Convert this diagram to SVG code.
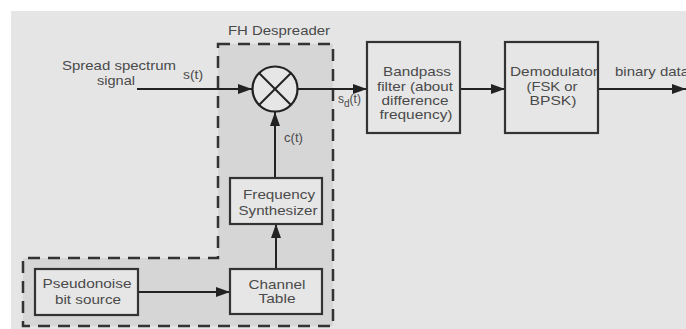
<svg xmlns="http://www.w3.org/2000/svg" width="686" height="329" viewBox="0 0 686 329">
<defs>
<marker id="ah" viewBox="0 0 14 10" refX="14" refY="5" markerWidth="14" markerHeight="10" markerUnits="userSpaceOnUse" orient="auto">
<path d="M0,0 L14,5 L0,10 Z" fill="#222"/>
</marker>
</defs>
<style>
text{font-family:"Liberation Sans",Arial,sans-serif;font-size:13px;fill:#4a4a4a}
.c{text-anchor:middle}
.box{fill:#e6e6e6;stroke:#333;stroke-width:2.2}
.ln{stroke:#222;stroke-width:2;fill:none}
</style>
<rect x="0" y="0" width="686" height="329" fill="#ffffff"/>
<rect x="11" y="11" width="675" height="318" fill="#e5e5e5"/>
<g id="despreader-region">
<path d="M218,44 L333,44 L333,326 L23,326 L23,258 L218,258 Z" fill="#d6d6d6" stroke="#333" stroke-width="2.5" stroke-dasharray="12 8"/>
<text x="279" y="35" class="c" textLength="102" lengthAdjust="spacingAndGlyphs">FH Despreader</text>
</g>
<g id="labels">
<text x="176" y="70" text-anchor="end" textLength="114" lengthAdjust="spacingAndGlyphs">Spread spectrum</text>
<text x="135" y="85" text-anchor="end" textLength="38" lengthAdjust="spacingAndGlyphs">signal</text>
<text x="183" y="79" style="font-size:12px" textLength="20" lengthAdjust="spacingAndGlyphs">s(t)</text>
<text x="284" y="142" style="font-size:12px" textLength="19" lengthAdjust="spacingAndGlyphs">c(t)</text>
<text x="338" y="103" style="font-size:12px">s<tspan dy="4" style="font-size:10px">d</tspan><tspan dy="-4">(t)</tspan></text>
<text x="615" y="76" textLength="74" lengthAdjust="spacingAndGlyphs">binary data</text>
</g>
<g id="connectors">
<line class="ln" x1="137" y1="89" x2="252" y2="89" marker-end="url(#ah)"/>
<line class="ln" x1="297" y1="89" x2="367" y2="89" marker-end="url(#ah)"/>
<line class="ln" x1="460" y1="89" x2="505" y2="89" marker-end="url(#ah)"/>
<line class="ln" x1="598" y1="89" x2="686" y2="89" marker-end="url(#ah)"/>
<line class="ln" x1="275" y1="178" x2="275" y2="112" marker-end="url(#ah)"/>
<line class="ln" x1="276" y1="269" x2="276" y2="224" marker-end="url(#ah)"/>
<line class="ln" x1="138" y1="292" x2="230" y2="292" marker-end="url(#ah)"/>
</g>
<g id="mixer">
<circle cx="275" cy="89" r="22.5" fill="#e6e6e6" stroke="#222" stroke-width="2.2"/>
<line class="ln" x1="259" y1="73" x2="291" y2="105"/>
<line class="ln" x1="291" y1="73" x2="259" y2="105"/>
</g>
<g id="bandpass">
<rect class="box" x="367" y="42" width="93" height="91"/>
<text x="417" y="76" class="c" textLength="68" lengthAdjust="spacingAndGlyphs">Bandpass</text>
<text x="415" y="91" class="c" textLength="76" lengthAdjust="spacingAndGlyphs">filter (about</text>
<text x="415" y="105" class="c" textLength="67" lengthAdjust="spacingAndGlyphs">difference</text>
<text x="416" y="119" class="c" textLength="73" lengthAdjust="spacingAndGlyphs">frequency)</text>
</g>
<g id="demodulator">
<rect class="box" x="505" y="42" width="93" height="91"/>
<text x="554" y="76" class="c" textLength="88" lengthAdjust="spacingAndGlyphs">Demodulator</text>
<text x="552" y="91" class="c" textLength="51" lengthAdjust="spacingAndGlyphs">(FSK or</text>
<text x="553" y="105" class="c" textLength="47" lengthAdjust="spacingAndGlyphs">BPSK)</text>
</g>
<g id="freq-synth">
<rect class="box" x="230" y="178" width="92" height="46"/>
<text x="279" y="199" class="c" textLength="72" lengthAdjust="spacingAndGlyphs">Frequency</text>
<text x="278" y="215" class="c" textLength="79" lengthAdjust="spacingAndGlyphs">Synthesizer</text>
</g>
<g id="channel-table">
<rect class="box" x="230" y="269" width="92" height="45"/>
<text x="277" y="289" class="c" textLength="57" lengthAdjust="spacingAndGlyphs">Channel</text>
<text x="277" y="303" class="c" textLength="37" lengthAdjust="spacingAndGlyphs">Table</text>
</g>
<g id="pn-source">
<rect class="box" x="35" y="269" width="103" height="46"/>
<text x="87" y="288" class="c" textLength="89" lengthAdjust="spacingAndGlyphs">Pseudonoise</text>
<text x="88" y="304" class="c" textLength="66" lengthAdjust="spacingAndGlyphs">bit source</text>
</g>
</svg>
